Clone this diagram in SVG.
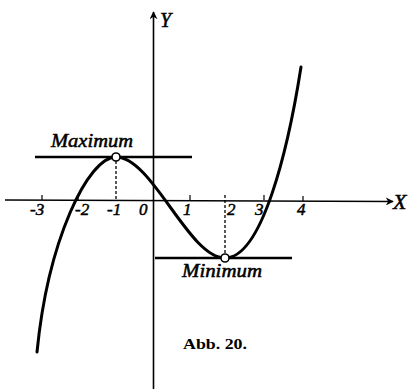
<svg xmlns="http://www.w3.org/2000/svg" width="412" height="389" viewBox="0 0 412 389">
<defs>
<style>
.ax{stroke:#000;stroke-width:1.6;fill:none}
.tk{stroke:#000;stroke-width:1.2}
.crv{stroke:#000;stroke-width:3;fill:none;stroke-linecap:round}
.tan{stroke:#000;stroke-width:2.6}
.dash{stroke:#000;stroke-width:1.3;stroke-dasharray:3 2}
.pt{fill:#fff;stroke:#000;stroke-width:1.6}
.num{font-family:"Liberation Serif",serif;font-style:italic;font-weight:normal;font-size:17px;fill:#000;stroke:#000;stroke-width:0.5}
.lab{font-family:"Liberation Serif",serif;font-style:italic;font-weight:normal;font-size:18px;fill:#000;stroke:#000;stroke-width:0.5}
.cap{font-family:"Liberation Serif",serif;font-weight:bold;font-size:14px;fill:#000}
</style>
<marker id="arr" viewBox="0 0 10 10" refX="9" refY="5" markerWidth="8" markerHeight="8" markerUnits="userSpaceOnUse" orient="auto">
<path d="M0,0 L10,5 L0,10 L3,5 Z" fill="#000"/>
</marker>
</defs>
<g id="connectors">
<line class="ax" x1="5" y1="200" x2="393" y2="201.5" marker-end="url(#arr)"/>
<line class="ax" x1="153.5" y1="389" x2="153.5" y2="12" marker-end="url(#arr)"/>
<g class="tk">
<line x1="42" y1="195" x2="42" y2="200"/>
<line x1="78" y1="195" x2="78" y2="200"/>
<line x1="190" y1="195" x2="190" y2="200"/>
<line x1="264" y1="195" x2="264" y2="200"/>
<line x1="303" y1="196" x2="303" y2="201"/>
</g>
<line class="dash" x1="116" y1="161" x2="116" y2="200"/>
<line class="dash" x1="225" y1="195" x2="225" y2="254"/>
<line class="tan" x1="35" y1="157" x2="192" y2="157"/>
<line class="tan" x1="155" y1="258" x2="292" y2="258"/>
<path class="crv" d="M37,352 C48,240 88,157 116,157 C152.3,157 188.7,258 225,258 C262,258 288,150 301,67"/>
</g>
<g id="maximum">
<circle class="pt" cx="116" cy="157" r="4"/>
<text class="lab" x="51" y="147" textLength="82" lengthAdjust="spacingAndGlyphs">Maximum</text>
</g>
<g id="minimum">
<circle class="pt" cx="225" cy="258" r="4"/>
<text class="lab" x="182" y="277" textLength="80" lengthAdjust="spacingAndGlyphs">Minimum</text>
</g>
<g id="labels">
<text class="num" x="30" y="215">-3</text>
<text class="num" x="75" y="215">-2</text>
<text class="num" x="107" y="215">-1</text>
<text class="num" x="139" y="215">0</text>
<text class="num" x="183" y="215">1</text>
<text class="num" x="227" y="215">2</text>
<text class="num" x="255" y="215">3</text>
<text class="num" x="297" y="215">4</text>
<text class="lab" x="160" y="27" style="font-size:20px">Y</text>
<text class="lab" x="393" y="209" style="font-size:22px">X</text>
<text class="cap" x="183" y="349" textLength="64" lengthAdjust="spacingAndGlyphs">Abb. 20.</text>
</g>
</svg>
